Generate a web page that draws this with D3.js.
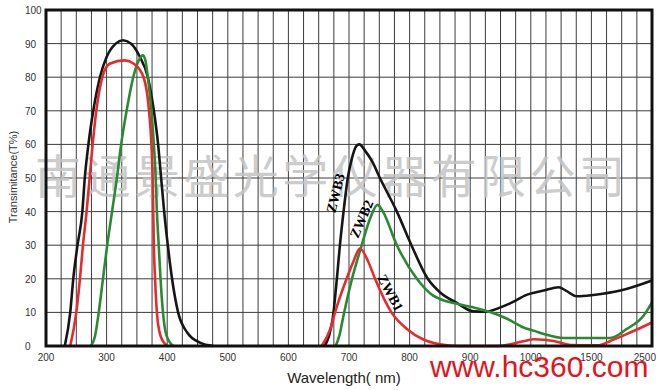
<!DOCTYPE html>
<html lang="en">
<head>
<meta charset="UTF-8">
<title>Transmittance</title>
<script src="https://d3js.org/d3.v7.min.js"></script>
<style>
  body { margin: 0; background: #fff; }
  text { font-family: "Liberation Sans", Arial, sans-serif; }
</style>
</head>
<body>
<svg width="660" height="390"></svg>
<script>
// tick labels on the x axis (non-linear scale, evenly spaced)
var xTicks = [200, 300, 400, 500, 600, 700, 800, 900, 1000, 1500, 2500];
var yTicks = [0, 10, 20, 30, 40, 50, 60, 70, 80, 90, 100];

// [wavelength nm, T%]
var zwb1 = [[240,0],[250,10],[256,20],[261,30],[267,40],[272,50],[277,60],[283,70],[293,80],[305,84],[330,85],[345,84],[361,80],[370,70],[374,60],[376,50],[377,40],[378,30],[380,20],[383,10],[389,3],[400,0]];
var zwb1b = [[655,0],[669,5],[677,10],[696,20],[707,25],[718,29],[732,25],[743,20],[770,10],[796,5],[822,2],[850,0.5],[880,0],[945,0],[990,1.5],[1025,2],[1190,1.5],[1330,0.3],[1600,0.2],[1813,1.5],[2140,4],[2500,7]];

var zwb2 = [[274,0],[281,3],[287,10],[294,20],[301,30],[309,40],[317,50],[324,60],[333,70],[344,80],[353,85],[360,86.5],[364,85],[368,80],[374,70],[378,60],[381,50],[383,40],[386,30],[389,20],[393,10],[399,3],[410,0]];
var zwb2b = [[678,0],[684,3],[692,10],[705,20],[721,30],[735,38],[747,42],[756,40],[779,30],[812,20],[839,15],[850,14],[880,12.5],[905,11.5],[933,10.1],[961,8.1],[987,5.6],[1030,4.5],[1107,3.6],[1272,2.4],[1813,2.4],[2078,5],[2360,9],[2500,13]];

var zwb3 = [[231,0],[240,10],[245,20],[252,30],[260,40],[264,50],[270,60],[278,70],[289,80],[300,86],[315,90],[327,91],[340,90],[355,86],[368,80],[378,70],[385,60],[390,50],[395,40],[401,30],[408,20],[418,10],[433,4],[454,1],[476,0]];
var zwb3b = [[660,0],[667,3],[673,8],[680,20],[685,30],[691,40],[698,50],[705,56],[712,59.5],[717,60],[727,58],[738,55],[751,50],[779,40],[803,30],[830,20],[850,16],[878,12.8],[905,10.3],[925,10.2],[950,11.5],[975,13.5],[990,15],[1107,16.5],[1231,17.5],[1289,16.5],[1380,14.8],[1533,15.2],[1978,16.5],[2500,19.5]];

var svg = d3.select("svg");
var pLeft = 46, pRight = 652, pTop = 10, pBottom = 346;

var x = d3.scaleLinear()
  .domain(xTicks)
  .range(xTicks.map(function(d, i) { return pLeft + i * (pRight - pLeft) / (xTicks.length - 1); }));
var y = d3.scaleLinear().domain([0, 100]).range([pBottom, pTop]);

// vertical grid: 4 per labelled step
var vgrid = [];
for (var i = 0; i < xTicks.length - 1; i++) {
  for (var k = 1; k < 4; k++) vgrid.push(xTicks[i] + (xTicks[i+1] - xTicks[i]) * k / 4);
  if (i > 0) vgrid.push(xTicks[i]);
}

var grid = svg.append("g");
grid.selectAll("line.v").data(vgrid).join("line").attr("class", "v")
  .attr("x1", d => x(d)).attr("x2", d => x(d))
  .attr("y1", pTop).attr("y2", pBottom)
  .style("stroke", "#3c3c3c").style("stroke-width", 1);
grid.selectAll("line.h").data(yTicks.slice(1, -1)).join("line").attr("class", "h")
  .attr("x1", pLeft).attr("x2", pRight)
  .attr("y1", d => y(d)).attr("y2", d => y(d))
  .style("stroke", "#3c3c3c").style("stroke-width", 1);

// watermark
svg.append("text")
  .attr("x", 35).attr("y", 193)
  .attr("textLength", 590).attr("lengthAdjust", "spacing")
  .style("font-family", "'Noto Sans CJK SC'")
  .style("font-size", "46px")
  .style("fill", "#c4c4c4").style("opacity", 0.85)
  .text("南通景盛光学仪器有限公司");

var line = d3.line()
  .x(d => x(d[0])).y(d => y(d[1]))
  .curve(d3.curveMonotoneX);

var series = [
  { data: zwb3, color: "#161616" }, { data: zwb3b, color: "#161616" },
  { data: zwb2, color: "#2a8a34" }, { data: zwb2b, color: "#2a8a34" },
  { data: zwb1, color: "#e42b2e" }, { data: zwb1b, color: "#e42b2e" }
];
svg.append("g").selectAll("path").data(series).join("path")
  .attr("d", d => line(d.data))
  .style("fill", "none")
  .style("stroke", d => d.color)
  .style("stroke-width", 2.6)
  .style("stroke-linejoin", "round");

// frame
svg.append("rect")
  .attr("x", pLeft).attr("y", pTop)
  .attr("width", pRight - pLeft).attr("height", pBottom - pTop)
  .style("fill", "none").style("stroke", "#111").style("stroke-width", 3);

// tick labels
svg.append("g").selectAll("text").data(yTicks).join("text")
  .attr("x", 25).attr("y", d => y(d) + 4)
  .style("font-size", "10px").style("fill", "#333")
  .text(d => d);
svg.append("g").selectAll("text").data(xTicks).join("text")
  .attr("x", d => d === 2500 ? x(d) + 4 : x(d)).attr("y", 361)
  .attr("text-anchor", d => d === 2500 ? "end" : "middle")
  .style("font-size", "10px").style("fill", "#333")
  .text(d => d);

// axis titles
svg.append("text")
  .attr("transform", "translate(17,177) rotate(-90)")
  .attr("text-anchor", "middle")
  .style("font-size", "11px").style("fill", "#333")
  .text("Transimitance(T%)");
svg.append("text")
  .attr("x", 344).attr("y", 383)
  .attr("text-anchor", "middle")
  .style("font-size", "15px").style("fill", "#222")
  .text("Wavelength( nm)");

// curve labels
var labels = [
  { name: "ZWB3", at: [678, 45.5], rot: -76 },
  { name: "ZWB2", at: [721, 37.8], rot: -67 },
  { name: "ZWB1", at: [768, 15.8], rot: 62 }
];
svg.append("g").selectAll("text").data(labels).join("text")
  .attr("transform", d => "translate(" + x(d.at[0]) + "," + y(d.at[1]) + ") rotate(" + d.rot + ")")
  .attr("text-anchor", "middle")
  .attr("dominant-baseline", "central")
  .style("font-family", "'Liberation Serif', serif")
  .style("font-weight", "bold")
  .style("font-size", "14px")
  .text(d => d.name);

// site watermark
svg.append("text")
  .attr("x", 430).attr("y", 377)
  .style("font-size", "30px").style("fill", "#e3141c")
  .text("www.hc360.com");
</script>
</body>
</html>
